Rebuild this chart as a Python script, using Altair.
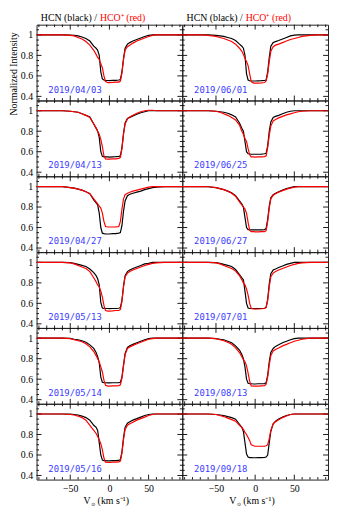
import altair as alt
import pandas as pd

# ---------------- data ----------------
VEL = [-93, -80, -70, -60, -50, -45, -40, -35, -30, -25, -20, -17, -15, -13, -11, -9, -7, -5, -2, 0,
       4, 8, 12, 14, 16, 18, 20, 23, 26, 30, 35, 40, 45, 50, 55, 60, 70, 80, 93]

HCN_0403 = [1.0, 1.0, 1.0, 1.0, 0.998, 0.995, 0.99, 0.98, 0.965, 0.94, 0.89, 0.87, 0.85, 0.80, 0.64, 0.57, 0.56, 0.555, 0.555, 0.553,
            0.556, 0.557, 0.56, 0.565, 0.64, 0.77, 0.87, 0.91, 0.925, 0.94, 0.955, 0.97, 0.985, 0.995, 1.0, 1.0, 1.0, 1.0, 1.0]
HCO_0403 = [1.0, 1.0, 1.0, 1.0, 0.995, 0.99, 0.975, 0.96, 0.935, 0.90, 0.85, 0.81, 0.78, 0.76, 0.72, 0.68, 0.60, 0.545, 0.535, 0.535,
            0.537, 0.54, 0.54, 0.55, 0.63, 0.76, 0.85, 0.885, 0.90, 0.92, 0.94, 0.955, 0.97, 0.985, 0.995, 1.0, 1.0, 1.0, 1.0]

HCN_0601 = [1.0, 1.0, 1.0, 1.0, 0.995, 0.99, 0.985, 0.975, 0.965, 0.945, 0.91, 0.89, 0.87, 0.80, 0.62, 0.56, 0.553, 0.55, 0.55, 0.55,
            0.552, 0.553, 0.555, 0.56, 0.64, 0.78, 0.89, 0.925, 0.935, 0.945, 0.96, 0.975, 0.99, 0.998, 1.0, 1.0, 1.0, 1.0, 1.0]
HCO_0601 = [1.0, 1.0, 1.0, 0.995, 0.985, 0.975, 0.965, 0.95, 0.935, 0.91, 0.87, 0.84, 0.81, 0.77, 0.74, 0.70, 0.62, 0.545, 0.53, 0.53,
            0.53, 0.532, 0.535, 0.55, 0.62, 0.74, 0.84, 0.885, 0.90, 0.91, 0.925, 0.94, 0.955, 0.965, 0.975, 0.985, 0.995, 1.0, 1.0]

HCN_0413 = [1.0, 1.0, 1.0, 1.0, 0.995, 0.99, 0.985, 0.97, 0.955, 0.94, 0.87, 0.83, 0.80, 0.74, 0.60, 0.555, 0.55, 0.55, 0.55, 0.548,
            0.55, 0.552, 0.555, 0.56, 0.64, 0.78, 0.88, 0.925, 0.935, 0.95, 0.965, 0.98, 0.99, 1.0, 1.0, 1.0, 1.0, 1.0, 1.0]
HCO_0413 = [1.0, 1.0, 1.0, 1.0, 0.995, 0.99, 0.985, 0.97, 0.955, 0.935, 0.87, 0.83, 0.80, 0.77, 0.72, 0.65, 0.56, 0.53, 0.527, 0.527,
            0.53, 0.53, 0.535, 0.545, 0.63, 0.77, 0.87, 0.92, 0.94, 0.955, 0.975, 0.99, 1.0, 1.005, 1.005, 1.0, 1.0, 1.0, 1.0]

HCN_0625 = [1.0, 1.0, 1.0, 1.0, 0.995, 0.99, 0.985, 0.975, 0.96, 0.94, 0.88, 0.83, 0.80, 0.70, 0.60, 0.58, 0.578, 0.575, 0.575, 0.575,
            0.575, 0.577, 0.58, 0.585, 0.66, 0.80, 0.89, 0.935, 0.945, 0.955, 0.97, 0.985, 0.995, 1.0, 1.0, 1.0, 1.0, 1.0, 1.0]
HCO_0625 = [1.0, 1.0, 1.0, 1.0, 0.995, 0.985, 0.97, 0.955, 0.935, 0.91, 0.86, 0.80, 0.77, 0.73, 0.70, 0.63, 0.57, 0.55, 0.55, 0.548,
            0.55, 0.55, 0.552, 0.56, 0.64, 0.76, 0.85, 0.90, 0.915, 0.93, 0.945, 0.96, 0.97, 0.98, 0.99, 0.995, 1.0, 1.0, 1.0]

HCN_0427 = [1.0, 1.0, 1.0, 1.0, 0.99, 0.985, 0.975, 0.965, 0.95, 0.93, 0.87, 0.84, 0.82, 0.74, 0.60, 0.545, 0.54, 0.538, 0.537, 0.537,
            0.54, 0.54, 0.545, 0.55, 0.62, 0.76, 0.86, 0.91, 0.925, 0.935, 0.945, 0.955, 0.97, 0.98, 0.99, 0.995, 1.0, 1.0, 1.0]
HCO_0427 = [1.0, 1.0, 1.0, 1.0, 0.99, 0.985, 0.975, 0.965, 0.95, 0.93, 0.88, 0.85, 0.83, 0.81, 0.79, 0.74, 0.66, 0.61, 0.605, 0.605,
            0.605, 0.607, 0.61, 0.66, 0.78, 0.88, 0.92, 0.935, 0.945, 0.955, 0.965, 0.975, 0.985, 0.995, 1.0, 1.0, 1.0, 1.0, 1.0]

HCN_0627 = [1.0, 1.0, 1.0, 0.998, 0.99, 0.98, 0.97, 0.955, 0.94, 0.91, 0.86, 0.83, 0.80, 0.70, 0.60, 0.58, 0.578, 0.577, 0.577, 0.577,
            0.577, 0.578, 0.58, 0.59, 0.68, 0.81, 0.89, 0.92, 0.935, 0.95, 0.965, 0.98, 0.99, 1.0, 1.0, 1.0, 1.0, 1.0, 1.0]
HCO_0627 = [1.0, 1.0, 1.0, 0.998, 0.99, 0.98, 0.97, 0.955, 0.935, 0.905, 0.85, 0.82, 0.80, 0.78, 0.74, 0.65, 0.575, 0.56, 0.56, 0.558,
            0.558, 0.56, 0.56, 0.57, 0.66, 0.79, 0.88, 0.915, 0.93, 0.945, 0.96, 0.975, 0.985, 0.995, 1.0, 1.0, 1.0, 1.0, 1.0]

HCN_0513 = [1.0, 1.0, 1.0, 1.0, 0.998, 0.99, 0.98, 0.97, 0.96, 0.935, 0.90, 0.87, 0.84, 0.78, 0.61, 0.555, 0.55, 0.55, 0.55, 0.548,
            0.55, 0.55, 0.552, 0.56, 0.63, 0.77, 0.87, 0.91, 0.925, 0.94, 0.955, 0.97, 0.985, 0.99, 1.0, 1.0, 1.0, 1.0, 1.0]
HCO_0513 = [1.0, 1.0, 1.0, 1.0, 0.995, 0.985, 0.97, 0.955, 0.94, 0.91, 0.85, 0.81, 0.78, 0.76, 0.72, 0.66, 0.58, 0.53, 0.525, 0.525,
            0.527, 0.53, 0.53, 0.54, 0.62, 0.76, 0.86, 0.895, 0.91, 0.925, 0.94, 0.955, 0.97, 0.98, 0.99, 0.995, 1.0, 1.0, 1.0]

HCN_0701 = [1.0, 1.0, 1.0, 1.0, 0.998, 0.99, 0.98, 0.97, 0.96, 0.93, 0.88, 0.85, 0.83, 0.72, 0.60, 0.555, 0.55, 0.55, 0.55, 0.548,
            0.55, 0.55, 0.552, 0.56, 0.64, 0.79, 0.89, 0.925, 0.935, 0.95, 0.965, 0.98, 0.99, 1.0, 1.0, 1.0, 1.0, 1.0, 1.0]
HCO_0701 = [1.0, 1.0, 1.0, 1.0, 0.995, 0.985, 0.97, 0.955, 0.94, 0.915, 0.87, 0.83, 0.80, 0.78, 0.74, 0.68, 0.60, 0.55, 0.545, 0.545,
            0.545, 0.547, 0.55, 0.56, 0.63, 0.76, 0.86, 0.895, 0.91, 0.925, 0.94, 0.955, 0.97, 0.98, 0.99, 0.995, 1.0, 1.0, 1.0]

HCN_0514 = [1.0, 1.0, 1.0, 1.0, 0.998, 0.99, 0.985, 0.975, 0.96, 0.935, 0.90, 0.86, 0.82, 0.76, 0.62, 0.57, 0.565, 0.565, 0.563, 0.563,
            0.565, 0.565, 0.567, 0.57, 0.62, 0.74, 0.85, 0.91, 0.925, 0.94, 0.955, 0.97, 0.985, 0.995, 1.0, 1.0, 1.0, 1.0, 1.0]
HCO_0514 = [1.0, 1.0, 1.0, 1.0, 0.995, 0.985, 0.975, 0.965, 0.945, 0.915, 0.87, 0.83, 0.80, 0.77, 0.72, 0.67, 0.59, 0.54, 0.533, 0.533,
            0.535, 0.535, 0.537, 0.545, 0.61, 0.73, 0.84, 0.90, 0.915, 0.93, 0.945, 0.96, 0.975, 0.99, 0.995, 1.0, 1.0, 1.0, 1.0]

HCN_0813 = [1.0, 1.0, 1.0, 1.0, 0.995, 0.99, 0.985, 0.97, 0.955, 0.925, 0.885, 0.84, 0.80, 0.72, 0.60, 0.56, 0.555, 0.555, 0.553, 0.553,
            0.555, 0.555, 0.557, 0.565, 0.64, 0.77, 0.86, 0.90, 0.92, 0.935, 0.955, 0.97, 0.985, 0.995, 1.0, 1.0, 1.0, 1.0, 1.0]
HCO_0813 = [1.0, 1.0, 1.0, 1.0, 0.995, 0.985, 0.975, 0.96, 0.94, 0.905, 0.86, 0.82, 0.79, 0.77, 0.73, 0.66, 0.58, 0.535, 0.533, 0.533,
            0.533, 0.535, 0.537, 0.55, 0.62, 0.74, 0.83, 0.875, 0.89, 0.905, 0.925, 0.94, 0.955, 0.97, 0.98, 0.99, 1.0, 1.0, 1.0]

HCN_0516 = [1.0, 1.0, 1.0, 1.0, 0.998, 0.995, 0.99, 0.98, 0.965, 0.94, 0.89, 0.87, 0.84, 0.72, 0.60, 0.55, 0.545, 0.545, 0.543, 0.543,
            0.545, 0.545, 0.547, 0.555, 0.63, 0.77, 0.87, 0.91, 0.925, 0.94, 0.955, 0.97, 0.985, 0.995, 1.0, 1.0, 1.0, 1.0, 1.0]
HCO_0516 = [1.0, 1.0, 1.0, 1.0, 0.995, 0.99, 0.98, 0.965, 0.94, 0.89, 0.84, 0.81, 0.78, 0.75, 0.71, 0.65, 0.57, 0.53, 0.527, 0.527,
            0.53, 0.53, 0.532, 0.54, 0.62, 0.75, 0.85, 0.89, 0.905, 0.92, 0.94, 0.955, 0.97, 0.985, 0.995, 1.0, 1.0, 1.0, 1.0]

HCN_0918 = [1.0, 1.0, 1.0, 1.0, 0.995, 0.99, 0.985, 0.975, 0.965, 0.95, 0.90, 0.87, 0.83, 0.72, 0.61, 0.58, 0.575, 0.575, 0.573, 0.573,
            0.575, 0.575, 0.577, 0.58, 0.60, 0.72, 0.83, 0.905, 0.93, 0.95, 0.97, 0.985, 0.995, 1.0, 1.0, 1.0, 1.0, 1.0, 1.0]
HCO_0918 = [1.0, 1.0, 1.0, 1.0, 0.995, 0.985, 0.975, 0.96, 0.945, 0.93, 0.89, 0.87, 0.85, 0.82, 0.80, 0.77, 0.74, 0.70, 0.69, 0.685,
            0.685, 0.685, 0.687, 0.69, 0.70, 0.76, 0.84, 0.905, 0.925, 0.945, 0.965, 0.98, 0.995, 1.0, 1.0, 1.0, 1.0, 1.0, 1.0]

# panels in reading order (left, right) per row
PANELS = [
    ("2019/04/03", HCN_0403, HCO_0403), ("2019/06/01", HCN_0601, HCO_0601),
    ("2019/04/13", HCN_0413, HCO_0413), ("2019/06/25", HCN_0625, HCO_0625),
    ("2019/04/27", HCN_0427, HCO_0427), ("2019/06/27", HCN_0627, HCO_0627),
    ("2019/05/13", HCN_0513, HCO_0513), ("2019/07/01", HCN_0701, HCO_0701),
    ("2019/05/14", HCN_0514, HCO_0514), ("2019/08/13", HCN_0813, HCO_0813),
    ("2019/05/16", HCN_0516, HCO_0516), ("2019/09/18", HCN_0918, HCO_0918),
]

X_LABELS = [-50, 0, 50]
X_MINOR = [-90, -80, -70, -60, -40, -30, -20, -10, 10, 20, 30, 40, 60, 70, 80, 90]
Y_LABELS = [0.4, 0.6, 0.8, 1.0]
Y_MINOR = [0.45, 0.5, 0.55, 0.65, 0.7, 0.75, 0.85, 0.9, 0.95, 1.05]

# ---------------- layout / style ----------------
W, H = 148, 77
XDOM = [-93, 93]
YDOM = [0.36, 1.1]
SERIF = "Liberation Serif"
BLUE = "#3a3aff"
MAJ, MIN = 5, 2.5


def panel(date, hcn, hco, left, bottom, top):
    n = len(VEL)
    df = pd.DataFrame({"v": VEL + VEL, "I": hcn + hco, "sp": ["HCN"] * n + ["HCO+"] * n})

    if bottom:
        xaxis = alt.Axis(values=X_LABELS, ticks=False, domain=False, grid=False,
                         labelFont=SERIF, labelFontSize=10, labelColor="black", labelPadding=4,
                         title=None)
    else:
        xaxis = None
    if left:
        yaxis = alt.Axis(values=Y_LABELS, format="~g", ticks=False, domain=False, grid=False,
                         labelFont=SERIF, labelFontSize=10, labelColor="black", labelPadding=4,
                         title=None)
    else:
        yaxis = None

    xs = alt.Scale(domain=XDOM, nice=False, zero=False)
    ys = alt.Scale(domain=YDOM, nice=False, zero=False)

    lines = alt.Chart(df).mark_line(strokeWidth=1.2, clip=True).encode(
        x=alt.X("v:Q", scale=xs, axis=xaxis),
        y=alt.Y("I:Q", scale=ys, axis=yaxis),
        color=alt.Color("sp:N", scale=alt.Scale(domain=["HCN", "HCO+"], range=["#000000", "#ff0000"]),
                        legend=None),
        order=alt.Order("v:Q"),
    )

    xmaj = pd.DataFrame({"t": X_LABELS})
    xmin = pd.DataFrame({"t": X_MINOR})
    ymaj = pd.DataFrame({"t": Y_LABELS})
    ymin = pd.DataFrame({"t": Y_MINOR})

    def xticks(d, L):
        b = alt.Chart(d).mark_rule(color="black", strokeWidth=0.9)
        bot = b.encode(x=alt.X("t:Q", scale=xs, axis=xaxis), y=alt.value(H), y2=alt.value(H - L))
        tp = b.encode(x=alt.X("t:Q", scale=xs, axis=xaxis), y=alt.value(0), y2=alt.value(L))
        return [bot, tp]

    def yticks(d, L):
        b = alt.Chart(d).mark_rule(color="black", strokeWidth=0.9)
        lf = b.encode(y=alt.Y("t:Q", scale=ys, axis=yaxis), x=alt.value(0), x2=alt.value(L))
        rt = b.encode(y=alt.Y("t:Q", scale=ys, axis=yaxis), x=alt.value(W), x2=alt.value(W - L))
        return [lf, rt]

    one = pd.DataFrame({"a": [0]})
    label = alt.Chart(one).mark_text(text=date, align="left", baseline="middle", color=BLUE,
                                     font="DejaVu Sans Mono", fontSize=9).encode(
        x=alt.value(12), y=alt.value(H - 11))

    layers = xticks(xmaj, MAJ) + xticks(xmin, MIN) + yticks(ymaj, MAJ) + yticks(ymin, MIN) + [lines, label]

    if bottom:
        C = W / 2
        t1 = alt.Chart(one).mark_text(text="V", align="right", baseline="middle", color="black",
                                      font=SERIF, fontSize=10).encode(x=alt.value(C - 19), y=alt.value(H + 22))
        t2 = alt.Chart(one).mark_text(text="⊙", align="left", baseline="middle", color="black",
                                      font="DejaVu Sans", fontSize=5).encode(x=alt.value(C - 18.5), y=alt.value(H + 25))
        t3 = alt.Chart(one).mark_text(text="(km s⁻¹)", align="left", baseline="middle", color="black",
                                      font=SERIF, fontSize=10).encode(x=alt.value(C - 12), y=alt.value(H + 22))
        layers += [t1, t2, t3]

    if top:
        h1 = alt.Chart(one).mark_text(text="HCN (black) /", align="right", baseline="middle",
                                      color="black", font=SERIF, fontSize=10).encode(
            x=alt.value(0.415 * W), y=alt.value(-7))
        h2 = alt.Chart(one).mark_text(text="HCO⁺ (red)", align="left", baseline="middle",
                                      color="red", font=SERIF, fontSize=10).encode(
            x=alt.value(0.435 * W), y=alt.value(-7))
        layers += [h1, h2]
    if top and left:
        yt = alt.Chart(one).mark_text(text="Normalized Intensity", angle=270, align="center",
                                      baseline="middle", color="black", font=SERIF, fontSize=10).encode(
            x=alt.value(-23), y=alt.value(50))
        layers.append(yt)

    return alt.layer(*layers).properties(width=W, height=H)


charts = []
for i, (date, hcn, hco) in enumerate(PANELS):
    row, col = divmod(i, 2)
    charts.append(panel(date, hcn, hco, left=(col == 0), bottom=(row == 5), top=(row == 0)))

chart = alt.concat(*charts, columns=2, spacing=0, bounds="flush").properties(
    padding={"left": 0, "top": 0, "right": 0, "bottom": 0}
).configure_view(stroke="#222222", strokeWidth=1)

chart.save("out.html", embed_options={"renderer": "svg", "actions": False})
